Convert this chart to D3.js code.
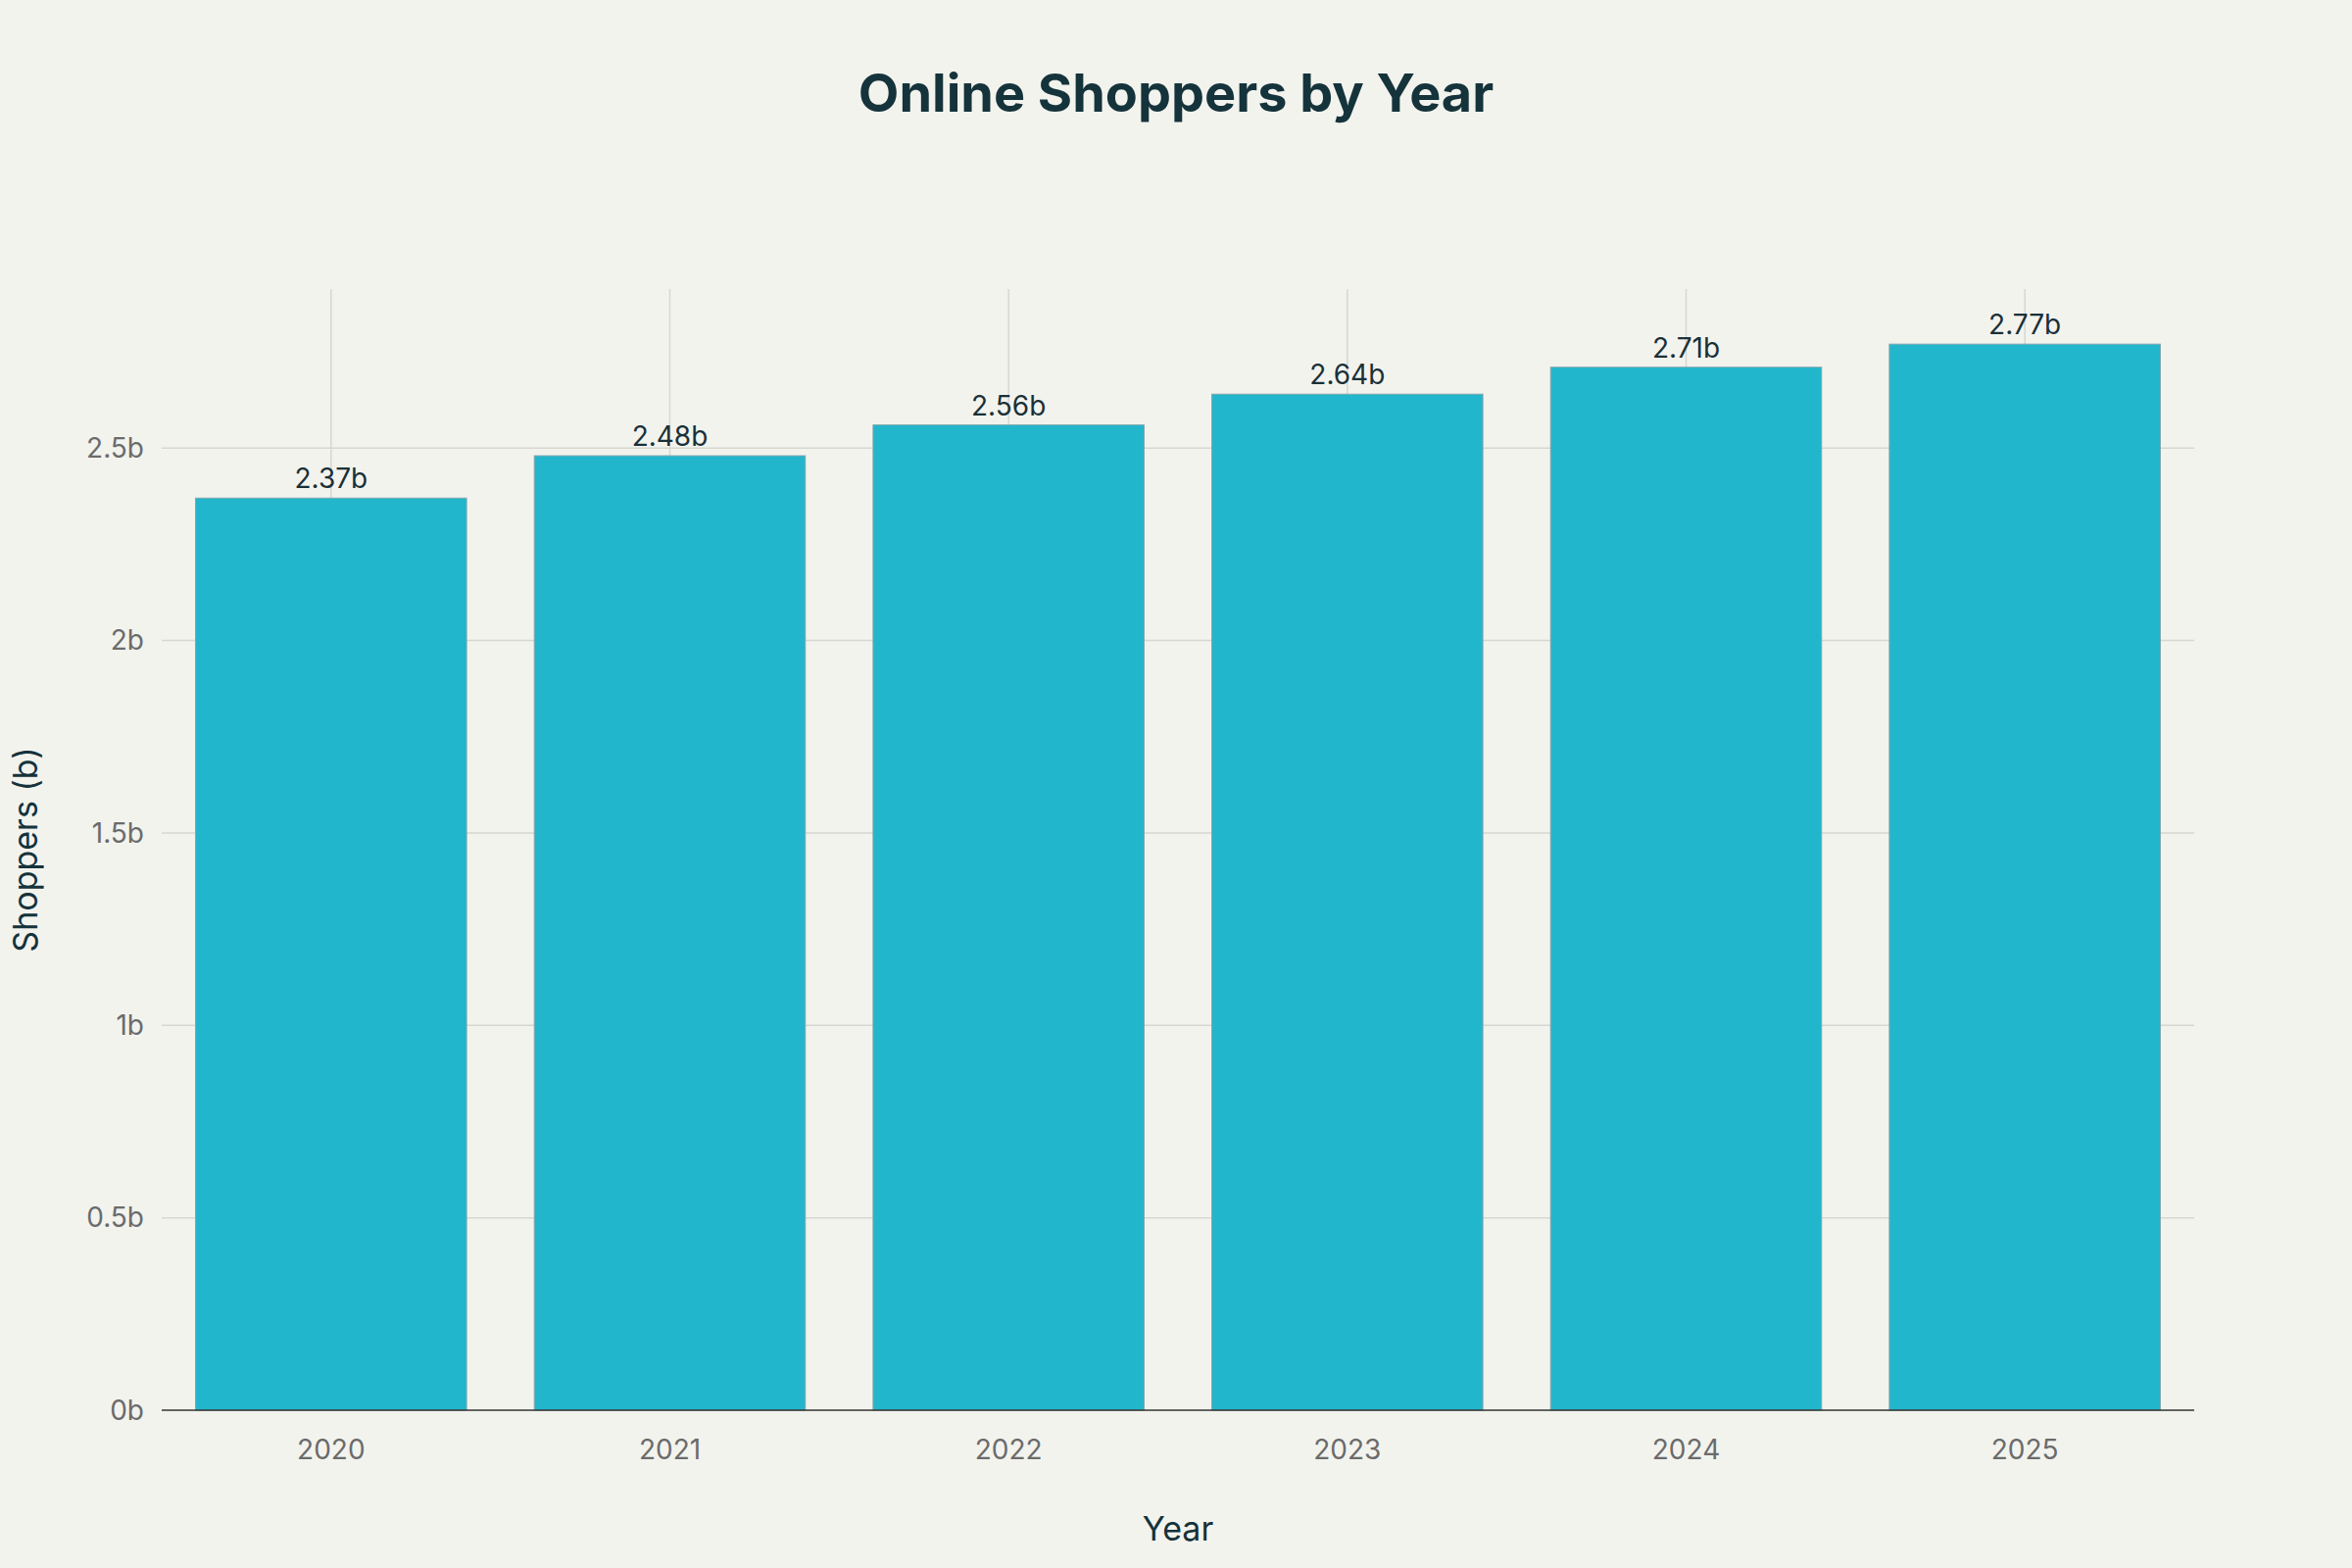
<!DOCTYPE html>
<html><head><meta charset="utf-8">
<script src="https://cdn.jsdelivr.net/npm/d3@7"></script>
<style>
body{margin:0;background:#f3f3ee;font-family:Inter,"Open Sans",sans-serif;}
</style></head>
<body><div id="chart"></div>
<script>
// --- Data ---
const years = ["2020", "2021", "2022", "2023", "2024", "2025"];
const shoppers = [2.37, 2.48, 2.56, 2.64, 2.71, 2.77];
const yTicks = [0, 0.5, 1, 1.5, 2, 2.5];

const W = 2400, H = 1600;
const margin = { top: 295, right: 161, bottom: 161, left: 165 };

const svg = d3.select("#chart").append("svg")
  .attr("width", W).attr("height", H)
  .style("background", "#f3f3ee");

const x = d3.scaleBand().domain(years)
  .range([margin.left, W - margin.right]).paddingInner(0.2).paddingOuter(0.1);
const y = d3.scaleLinear().domain([0, 2.913]).range([H - margin.bottom, margin.top]);

// gridlines
svg.append("g").selectAll("line.h").data(yTicks.filter(d => d > 0)).enter().append("line")
  .attr("x1", margin.left).attr("x2", W - margin.right)
  .attr("y1", d => y(d)).attr("y2", d => y(d))
  .attr("stroke", "#d6d6d2").attr("stroke-width", 1.5);
svg.append("g").selectAll("line.v").data(years).enter().append("line")
  .attr("x1", d => x(d) + x.bandwidth() / 2).attr("x2", d => x(d) + x.bandwidth() / 2)
  .attr("y1", margin.top).attr("y2", H - margin.bottom)
  .attr("stroke", "#d6d6d2").attr("stroke-width", 1.5);

// bars
svg.append("g").selectAll("rect").data(shoppers).enter().append("rect")
  .attr("x", (d, i) => x(years[i])).attr("width", x.bandwidth())
  .attr("y", d => y(d)).attr("height", d => y(0) - y(d))
  .attr("fill", "#21b6cc").attr("stroke", "#7fa7ad").attr("stroke-width", 1);

// value labels
svg.append("g").selectAll("text").data(shoppers).enter().append("text")
  .attr("x", (d, i) => x(years[i]) + x.bandwidth() / 2)
  .attr("y", d => y(d) - 10)
  .attr("text-anchor", "middle").attr("font-size", 28).attr("fill", "#1a3038")
  .text(d => d + "b");

// baseline
svg.append("line").attr("x1", margin.left).attr("x2", W - margin.right)
  .attr("y1", y(0)).attr("y2", y(0)).attr("stroke", "#333").attr("stroke-width", 1.5);

// y tick labels
svg.append("g").selectAll("text").data(yTicks).enter().append("text")
  .attr("x", margin.left - 18).attr("y", d => y(d)).attr("dy", "0.35em")
  .attr("text-anchor", "end").attr("font-size", 28).attr("fill", "#6b6b6b")
  .text(d => d + "b");

// x tick labels
svg.append("g").selectAll("text").data(years).enter().append("text")
  .attr("x", d => x(d) + x.bandwidth() / 2).attr("y", y(0) + 50)
  .attr("text-anchor", "middle").attr("font-size", 28).attr("fill", "#6b6b6b")
  .text(d => d);

// titles
svg.append("text").attr("x", W / 2).attr("y", 114).attr("text-anchor", "middle")
  .attr("font-size", 54).attr("font-weight", "bold").attr("fill", "#15333b")
  .text("Online Shoppers by Year");
svg.append("text").attr("x", (margin.left + W - margin.right) / 2).attr("y", 1572)
  .attr("text-anchor", "middle").attr("font-size", 34).attr("fill", "#15333b").text("Year");
svg.append("text").attr("transform", `translate(38,${(margin.top + H - margin.bottom) / 2}) rotate(-90)`)
  .attr("text-anchor", "middle").attr("font-size", 34).attr("fill", "#15333b").text("Shoppers (b)");
</script></body></html>
